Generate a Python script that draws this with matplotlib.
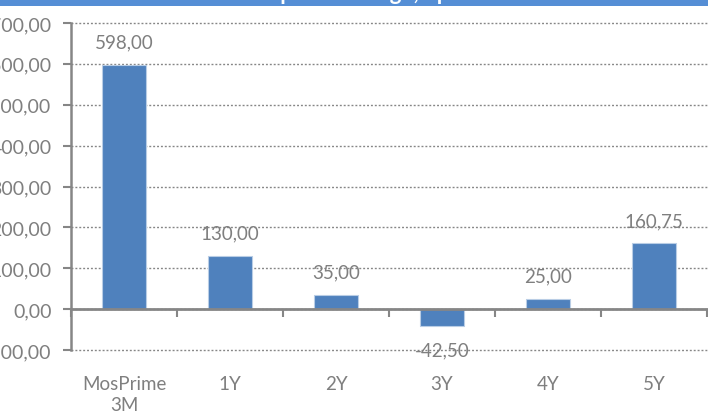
import matplotlib
matplotlib.use("Agg")
import matplotlib.pyplot as plt
from matplotlib.patches import Rectangle
from matplotlib.transforms import blended_transform_factory

categories = ["MosPrime\n3M", "1Y", "2Y", "3Y", "4Y", "5Y"]
values = [598.00, 130.00, 35.00, -42.50, 25.00, 160.75]
y_ticks = [-100, 0, 100, 200, 300, 400, 500, 600, 700]
title = "Spread change, bp"

W, H, DPI = 708, 414, 100
grey = "#7f7f7f"
axis_grey = "#868686"
bar_blue = "#4f81bd"
banner_blue = "#558ed5"

plt.rcParams["font.family"] = ["Lato", "DejaVu Sans"]

fig = plt.figure(figsize=(W / DPI, H / DPI), dpi=DPI)
fig.patch.set_facecolor("white")

# banner strip along the top edge with the chart title
fig.patches.append(Rectangle((0, 1 - 7 / H), 1, 7 / H, transform=fig.transFigure,
                             facecolor=banner_blue, edgecolor="none", zorder=0))
fig.text(268 / W, 1.0 - 0.5 / H, title, color="white", fontsize=16, fontweight="bold",
         ha="left", va="baseline")

ax = fig.add_axes([71 / W, (H - 351) / H, 636 / W, 327 / H])
x = list(range(len(categories)))
ax.bar(x, values, width=0.41, color=bar_blue, edgecolor="#b9cde5", linewidth=0.8, zorder=3)

ax.set_xlim(-0.5, len(categories) - 0.5)
ax.set_ylim(y_ticks[0], y_ticks[-1])
ax.set_yticks(y_ticks)
ax.set_yticklabels([f"{v:.2f}".replace(".", ",") for v in y_ticks])
ax.yaxis.grid(True, linestyle=(0, (1.4, 1.4)), color=axis_grey, linewidth=1.0, zorder=1)
for gl in ax.get_ygridlines():
    gl.set_clip_on(False)
ax.tick_params(axis="y", direction="out", length=6, width=1.5, color=axis_grey,
               labelcolor=grey, labelsize=14, pad=8)

for s in ["top", "right"]:
    ax.spines[s].set_visible(False)
ax.spines["left"].set_color(axis_grey)
ax.spines["left"].set_linewidth(1.8)
ax.spines["bottom"].set_position(("data", 0))
ax.spines["bottom"].set_color(axis_grey)
ax.spines["bottom"].set_linewidth(2.0)
ax.spines["bottom"].set_zorder(4)

# category boundary ticks on the zero line
ax.set_xticks([i - 0.5 for i in range(len(categories) + 1)])
ax.set_xticklabels([])
ax.tick_params(axis="x", direction="out", length=6, width=1.5, color=axis_grey)

trans = blended_transform_factory(ax.transData, ax.transAxes)
for xi, lab in zip(x, categories):
    ax.text(xi, -0.075, lab, transform=trans, ha="center", va="top",
            color=grey, fontsize=13.5, linespacing=1.35)

for xi, v in zip(x, values):
    off = 16.5 if v >= 0 else -16.5
    ax.annotate(f"{v:.2f}".replace(".", ","), (xi, v), xytext=(0, off),
                textcoords="offset points", ha="center", va="center",
                color=grey, fontsize=13.5, zorder=5)

fig.savefig("out.png", dpi=DPI)
